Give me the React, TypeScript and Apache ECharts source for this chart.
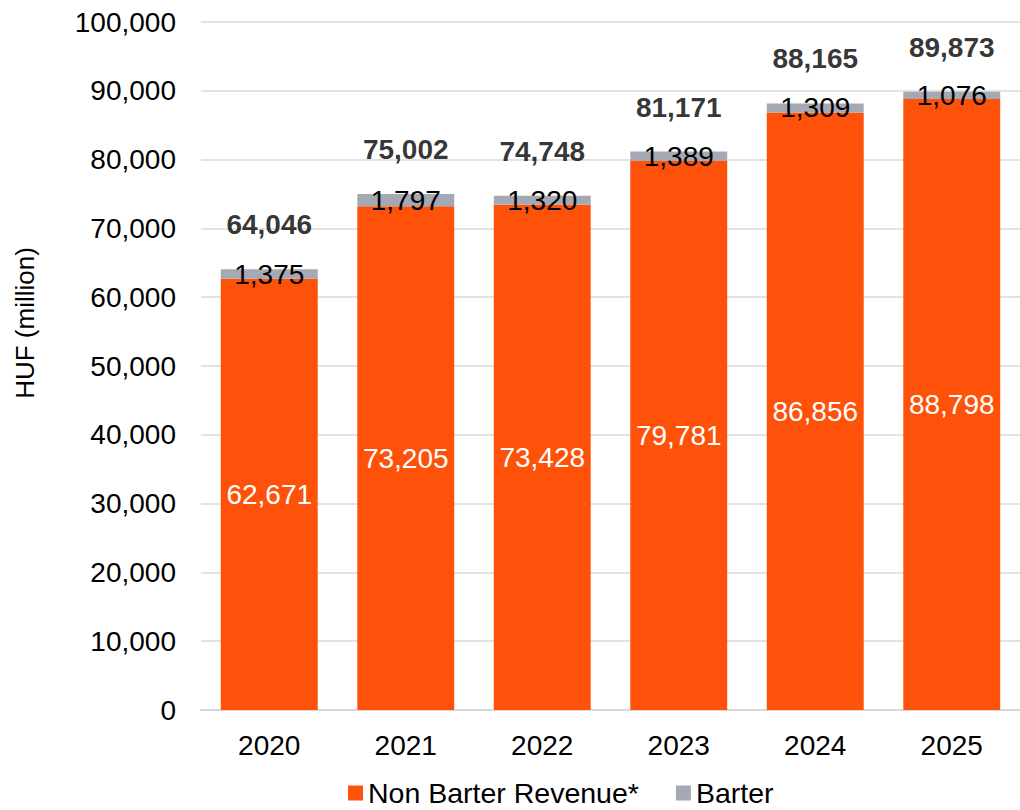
import React, { useEffect, useRef } from "react";
import * as echarts from "echarts";

const years = ["2020", "2021", "2022", "2023", "2024", "2025"];
const nonBarter = [62671, 73205, 73428, 79781, 86856, 88798];
const barter = [1375, 1797, 1320, 1389, 1309, 1076];
const totals = [64046, 75002, 74748, 81171, 88165, 89873];

const FONT = "'Liberation Sans', Arial, sans-serif";
const fmt = (v: number) => v.toLocaleString("en-US");

export default function App() {
  const ref = useRef<HTMLDivElement>(null);
  useEffect(() => {
    if (!ref.current) return;
    const chart = echarts.init(ref.current, undefined, { renderer: "svg" });
    chart.setOption({
      animation: false,
      textStyle: { fontFamily: FONT },
      grid: { left: 201, top: 22, width: 830, height: 688, containLabel: false },
      legend: {
        data: ["Non Barter Revenue*", "Barter"],
        left: 348,
        top: 778,
        padding: 0,
        itemWidth: 15,
        itemHeight: 15,
        itemGap: 37,
        icon: "rect",
        textStyle: { fontSize: 28.5, lineHeight: 30, color: "#000", fontFamily: FONT },
      },
      xAxis: {
        type: "category",
        data: years,
        axisLine: { lineStyle: { color: "#d9d9d9", width: 2 } },
        axisTick: { show: false },
        axisLabel: { fontSize: 28, color: "#000", margin: 21, fontFamily: FONT },
      },
      yAxis: {
        type: "value",
        min: 0,
        max: 100000,
        interval: 10000,
        axisLine: { show: false },
        axisTick: { show: false },
        splitLine: { lineStyle: { color: "#e3e3e3", width: 2 } },
        axisLabel: { fontSize: 28, color: "#000", margin: 25, fontFamily: FONT, formatter: (v: number) => fmt(v) },
      },
      graphic: [
        {
          type: "text",
          x: 25,
          y: 323,
          rotation: Math.PI / 2,
          style: { text: "HUF (million)", fontSize: 26, fill: "#000", fontFamily: FONT, align: "center", verticalAlign: "middle" },
        },
      ],
      series: [
        {
          name: "Non Barter Revenue*",
          type: "bar",
          stack: "t",
          barWidth: "71%",
          data: nonBarter,
          itemStyle: { color: "#FE520A" },
          label: { show: true, position: "inside", color: "#fff", fontSize: 28, fontFamily: FONT, formatter: (p: any) => fmt(p.value) },
        },
        {
          name: "Barter",
          type: "bar",
          stack: "t",
          barWidth: "71%",
          data: barter,
          itemStyle: { color: "#A5A9B4" },
          label: { show: true, position: "inside", color: "#000", fontSize: 28, fontFamily: FONT, formatter: (p: any) => fmt(p.value) },
        },
        {
          name: "Total",
          type: "scatter",
          data: totals,
          symbolSize: 1,
          itemStyle: { color: "transparent" },
          label: { show: true, position: "top", distance: 30, color: "#000", fontSize: 28, fontWeight: "bold", fontFamily: FONT, formatter: (p: any) => fmt(p.value) },
          silent: true,
        },
      ],
    });
    return () => chart.dispose();
  }, []);
  return <div ref={ref} style={{ width: 1020, height: 810, position: "absolute", left: 0, top: 0 }} />;
}
